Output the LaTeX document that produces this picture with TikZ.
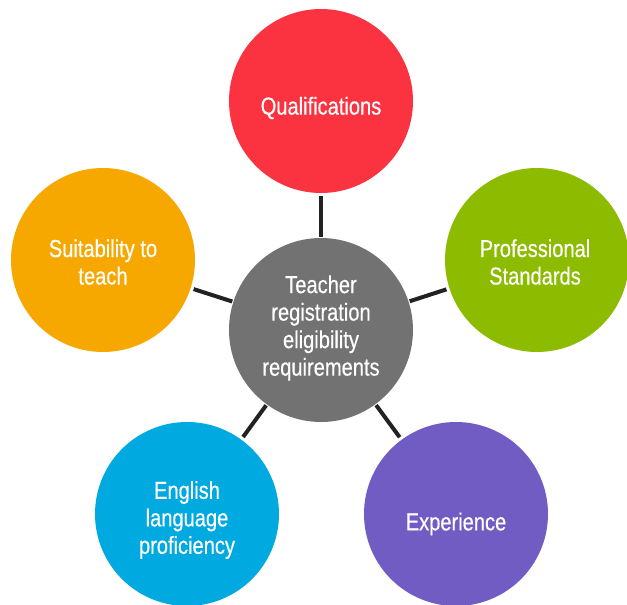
\documentclass[tikz,border=0pt]{standalone}
\usepackage{fontspec}
\setmainfont{Liberation Sans}[FakeStretch=0.82,FakeBold=0.4]
\definecolor{cred}{HTML}{FB3341}
\definecolor{corange}{HTML}{F6A800}
\definecolor{cgreen}{HTML}{8CBB00}
\definecolor{cblue}{HTML}{00A9E0}
\definecolor{cpurple}{HTML}{715CC4}
\definecolor{cgray}{HTML}{727272}
\definecolor{cline}{HTML}{222222}
\tikzset{
  bubble/.style={circle, minimum size=184pt, inner sep=0pt},
  lbl/.style={inner sep=0pt, text=white, align=center,
    font=\fontsize{24.5pt}{27.5pt}\selectfont},
  link/.style={draw=cline, line width=4pt, shorten <=1pt, shorten >=3pt}
}
\begin{document}
\begin{tikzpicture}[x=1pt,y=-1pt]
\useasboundingbox (0,0) rectangle (627,605);
\node[bubble, fill=cgray] (c) at (321,330) {};
\node[bubble, fill=cred] (q) at (321,101) {};
\node[bubble, fill=corange] (s) at (103,260) {};
\node[bubble, fill=cgreen] (p) at (537,260) {};
\node[bubble, fill=cblue] (e) at (187,514) {};
\node[bubble, fill=cpurple] (x) at (456,514) {};
\node[lbl] (ct) at ([yshift=2pt]c.center) {Teacher\\registration\\eligibility\\requirements};
\node[lbl] (qt) at ([yshift=-7pt]q.center) {Qualifications};
\node[lbl] (st) at ([yshift=-2pt]s.center) {Suitability to\\teach};
\node[lbl] (pt) at ([xshift=-2pt,yshift=-2pt]p.center) {Professional\\Standards};
\node[lbl] (et) at ([yshift=-6pt]e.center) {English\\language\\proficiency};
\node[lbl] (xt) at ([yshift=-10pt]x.center) {Experience};
\draw[link] (c) -- (q);
\draw[link] (c) -- (s);
\draw[link] (c) -- (p);
\draw[link] (c) -- (e);
\draw[link] (c) -- (x);
\end{tikzpicture}
\end{document}
